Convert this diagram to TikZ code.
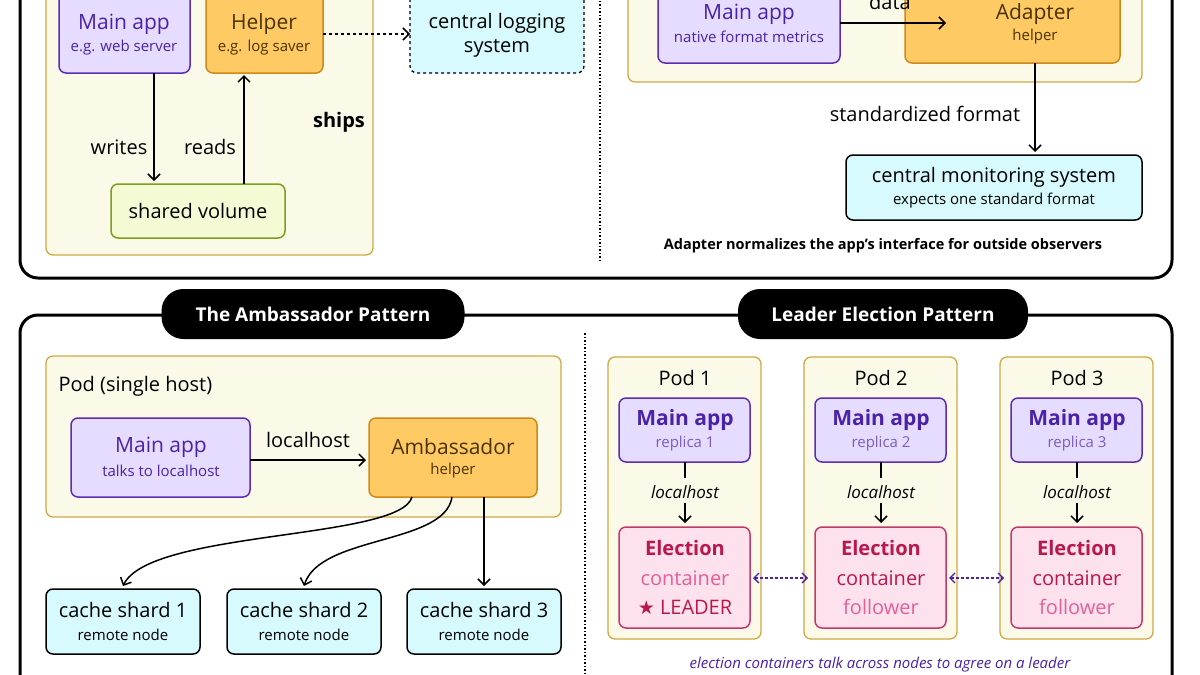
\documentclass[tikz,border=0pt]{standalone}
\usepackage{fontspec}
\setmainfont{Open Sans}
\newfontfamily\symf{DejaVu Sans}
\usetikzlibrary{arrows.meta}
\definecolor{pfill}{HTML}{E6DCFF}\definecolor{pdraw}{HTML}{5B2DB0}\definecolor{ptext}{HTML}{4A22A8}\definecolor{psub}{HTML}{7A5CC4}
\definecolor{ofill}{HTML}{FFC964}\definecolor{odraw}{HTML}{CC8A18}\definecolor{otext}{HTML}{4A3300}
\definecolor{podfill}{HTML}{FBF9E8}\definecolor{poddraw}{HTML}{CDAA44}
\definecolor{cfill}{HTML}{D6FAFD}\definecolor{gfill}{HTML}{F3FAD4}\definecolor{gdraw}{HTML}{7E9C1E}
\definecolor{kfill}{HTML}{FDE1EC}\definecolor{kdraw}{HTML}{C23A6A}\definecolor{ktext}{HTML}{B8184E}\definecolor{klight}{HTML}{E2609A}
\newcommand{\fs}[1]{\fontsize{#1}{#1}\selectfont}
\begin{document}
\begin{tikzpicture}[x=1pt,y=-1pt,
 box/.style={rounded corners=7pt,line width=1.5pt},
 pod/.style={draw=poddraw,fill=podfill,rounded corners=7pt,line width=1.3pt},
 purp/.style={box,draw=pdraw,fill=pfill},
 ora/.style={box,draw=odraw,fill=ofill},
 cya/.style={box,draw=black,fill=cfill},
 pink/.style={box,draw=kdraw,fill=kfill},
 arr/.style={-{Straight Barb[length=6pt,width=12pt]},line width=1.5pt},
 lab/.style={font=\fs{20}},
 pill/.style={fill=black,rounded corners=22pt,text=white,font=\fs{19}\bfseries,minimum height=50pt,inner xsep=30pt}]
\useasboundingbox (0,0) rectangle (1200,675);
\fill[white] (0,0) rectangle (1200,675);
% top panel
\draw[line width=3pt,rounded corners=18pt] (20,-40) rectangle (1172,278);
\draw[dotted,line width=1.5pt] (600,-10) -- (600,262);
\draw[pod] (46,-30) rectangle (373,255);
\draw[purp] (59,-8) rectangle (190,73);
\node[text=ptext,font=\fs{21}] at (124,24) {Main app};
\node[text=ptext,font=\fs{15}] at (124,48) {e.g. web server};
\draw[ora] (206,-8) rectangle (323,73);
\node[text=otext,font=\fs{21}] at (264,24) {Helper};
\node[text=otext,font=\fs{15}] at (264,48) {e.g. log saver};
\draw[cya,dashed,line width=1.3pt] (410,-8) rectangle (584,73);
\node[font=\fs{20},align=center] at (497,35) {central logging\\[4pt]system};
\draw[arr,dashed] (323,34) -- (410,34);
\draw[box,draw=gdraw,fill=gfill] (111,184) rectangle (285,238);
\node[font=\fs{20}] (sv) at (198,211) {shared volume};
\draw[arr] (154,73) -- (154,181);
\draw[arr] (244,184) -- (244,75);
\node[lab] at (119,147) {writes};
\node[lab] at (210,147) {reads};
\node[lab,font=\fs{20}\bfseries] at (339,122) {ships};
% top right
\draw[pod] (628,-30) rectangle (1142,82);
\draw[purp] (658,-20) rectangle (840,63);
\node[text=ptext,font=\fs{21}] at (749,14) {Main app};
\node[text=ptext,font=\fs{15}] at (749,37) {native format metrics};
\draw[ora] (905,-20) rectangle (1120,63);
\node[text=otext,font=\fs{21}] at (1035,14) {Adapter};
\node[text=otext,font=\fs{15}] at (1035,37) {helper};
\draw[arr] (840,23) -- (946,23);
\node[lab] at (890,2) {data};
\draw[cya] (846,155) rectangle (1142,220);
\node[font=\fs{20}] at (994,177) {central monitoring system};
\node[font=\fs{15}] at (994,201) {expects one standard format};
\draw[arr] (1035,63) -- (1035,152);
\node[lab] at (925,114) {standardized format};
\node[font=\fs{14.5}\bfseries] at (883,246) {Adapter normalizes the app's interface for outside observers};
% bottom panel
\draw[line width=3pt,rounded corners=18pt] (20,315) rectangle (1172,720);
\draw[dotted,line width=1.5pt] (585,333) -- (585,675);
\node[pill,minimum width=303pt] at (313,314) {The Ambassador Pattern};
\node[pill,minimum width=290pt] at (883,314) {Leader Election Pattern};
\draw[pod] (46,356) rectangle (561,517);
\node[anchor=west,font=\fs{20}] at (55,386) {Pod (single host)};
\draw[purp] (71,418) rectangle (250,497);
\node[text=ptext,font=\fs{21}] at (161,447) {Main app};
\node[text=ptext,font=\fs{15}] at (161,471) {talks to localhost};
\draw[ora] (369,418) rectangle (537,497);
\node[text=otext,font=\fs{21}] at (453,447) {Ambassador};
\node[text=otext,font=\fs{15}] at (453,471) {helper};
\draw[arr] (250,460) -- (366,460);
\node[lab] at (308,440) {localhost};
\foreach \n/\x in {1/123,2/304,3/484}{
 \draw[cya] (\x-77,589) rectangle (\x+77,654);
 \node[font=\fs{20}] at (\x,610) {cache shard \n};
 \node[font=\fs{15}] at (\x,635) {remote node};
}
\draw[arr] (412,497) .. controls (400,540) and (150,530) .. (123,586);
\draw[arr] (452,497) .. controls (445,545) and (320,535) .. (304,586);
\draw[arr] (484,497) -- (484,586);
% leader
\foreach \n/\x in {1/685,2/881,3/1077}{
 \draw[pod] (\x-77,357) rectangle (\x+76,639);
 \node[font=\fs{20}] at (\x,378) {Pod \n};
 \draw[purp] (\x-66,398) rectangle (\x+65,462);
 \node[text=ptext,font=\fs{21}\bfseries] at (\x,420) {Main app};
 \node[text=psub,font=\fs{15}] at (\x,444) {replica \n};
 \node[font=\fs{17}\itshape] at (\x,492) {localhost};
 \draw[line width=1.4pt] (\x,462) -- (\x,478);
 \draw[arr] (\x,503) -- (\x,523);
 \draw[pink] (\x-66,527) rectangle (\x+65,628);
 \node[text=ktext,font=\fs{20}\bfseries] at (\x,548) {Election};
}
\node[text=klight,font=\fs{20}] at (685,578) {container};
\node[text=ktext,font=\fs{20}] at (685,607) {{\symf\fs{19}★} LEADER};
\foreach \x in {881,1077}{
 \node[text=ktext,font=\fs{20}] at (\x,578) {container};
 \node[text=klight,font=\fs{20}] at (\x,607) {follower};
}
\draw[{Straight Barb[length=5pt,width=10pt]}-{Straight Barb[length=5pt,width=10pt]},densely dashed,line width=1.3pt,draw=ptext] (753,578) -- (808,578);
\draw[{Straight Barb[length=5pt,width=10pt]}-{Straight Barb[length=5pt,width=10pt]},densely dashed,line width=1.3pt,draw=ptext] (949,578) -- (1004,578);
\node[text=ptext,font=\fs{15}\itshape] at (880,665) {election containers talk across nodes to agree on a leader};
\end{tikzpicture}
\end{document}
